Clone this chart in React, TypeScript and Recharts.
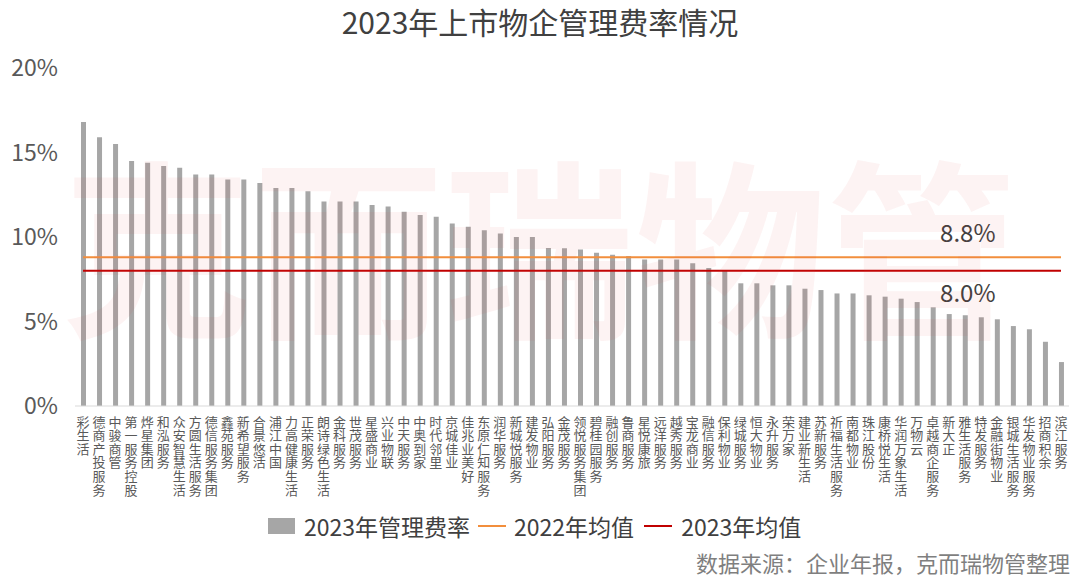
import { ComposedChart, Bar, Line, XAxis, YAxis, LabelList } from 'recharts';

const companies = [
  '彩生活', '德商产投服务', '中骏商管', '第一服务控股', '烨星集团', '和泓服务', '众安智慧生活', '方圆生活服务',
  '德信服务集团', '鑫苑服务', '新希望服务', '合景悠活', '浦江中国', '力高健康生活', '正荣服务', '朗诗绿色生活',
  '金科服务', '世茂服务', '星盛商业', '兴业物联', '中天服务', '中奥到家', '时代邻里', '京城佳业',
  '佳兆业美好', '东原仁知服务', '润华服务', '新城悦服务', '建发物业', '弘阳服务', '金茂服务', '领悦服务集团',
  '碧桂园服务', '融创服务', '鲁商服务', '星悦康旅', '远洋服务', '越秀服务', '宝龙商业', '融信服务',
  '保利物业', '绿城服务', '恒大物业', '永升服务', '荣万家', '建业新生活', '苏新服务', '祈福生活服务',
  '南都物业', '珠江股份', '康桥悦生活', '华润万象生活', '万物云', '卓越商企服务', '新大正', '雅生活服务',
  '特发服务', '金融街物业', '银城生活服务', '华发物业服务', '招商积余', '滨江服务',
];

// 2023年管理费率 (%)
const rate2023 = [
  16.8, 15.9, 15.5, 14.5, 14.4, 14.2, 14.1, 13.7,
  13.7, 13.4, 13.4, 13.2, 12.9, 12.9, 12.7, 12.1,
  12.1, 12.1, 11.9, 11.8, 11.5, 11.3, 11.2, 10.8,
  10.6, 10.4, 10.2, 10.0, 10.0, 9.35, 9.34, 9.26,
  9.07, 8.95, 8.87, 8.67, 8.67, 8.67, 8.44, 8.16,
  8.04, 7.26, 7.26, 7.14, 7.14, 6.94, 6.86, 6.66,
  6.66, 6.55, 6.47, 6.35, 6.15, 5.84, 5.44, 5.37,
  5.25, 5.13, 4.73, 4.54, 3.8, 2.6,
];

const avg2022 = 8.8;
const avg2023 = 8.0;
const yTicks = [0, 5, 10, 15, 20];

const data = companies.map((name, i) => ({
  name,
  rate: rate2023[i],
  avg22: avg2022,
  avg23: avg2023,
}));

const FONT = '"Noto Sans CJK SC", "Noto Sans", sans-serif';
const LABEL_INDEX = 55;

function VerticalTick(props: any) {
  const { x, y, payload } = props;
  const chars = String(payload.value).split('');
  return (
    <g>
      {chars.map((c, i) => (
        <text
          key={i}
          x={x}
          y={y + 7 + i * 13.6}
          textAnchor="middle"
          dominantBaseline="central"
          fontSize={13}
          fill="#595959"
          fontFamily={FONT}
        >
          {c}
        </text>
      ))}
    </g>
  );
}

function avgLabel(dy: number) {
  return (props: any) => {
    const { x, y, index, value } = props;
    if (index !== LABEL_INDEX) return null;
    return (
      <text x={x + 3} y={y + dy} textAnchor="middle" dominantBaseline="central" fontSize={24} fill="#404040" fontFamily={FONT}>
        {Number(value).toFixed(1)}%
      </text>
    );
  };
}

export default function App() {
  return (
    <div style={{ position: 'relative', width: 1080, height: 580, background: '#fff', fontFamily: FONT, overflow: 'hidden' }}>
      <style>{'body{margin:0}'}</style>
      <div style={{ position: 'absolute', top: 3, left: 0, width: 1080, textAlign: 'center', fontSize: 30, lineHeight: '36px', color: '#404040' }}>
        2023年上市物企管理费率情况
      </div>
      <ComposedChart width={1080} height={580} data={data} margin={{ top: 68, right: 11, left: 0, bottom: 0 }}>
        <XAxis
          dataKey="name"
          interval={0}
          height={174}
          tickLine={false}
          axisLine={{ stroke: '#d9d9d9' }}
          tick={<VerticalTick />}
        />
        <YAxis
          width={75}
          domain={[0, 20]}
          ticks={yTicks}
          axisLine={false}
          tickLine={false}
          tickMargin={11}
          tickFormatter={(v) => `${v}%`}
          tick={{ fontSize: 23, fill: '#595959', fontFamily: FONT }}
        />
        <Bar dataKey="rate" fill="#a6a6a6" barSize={5} isAnimationActive={false} />
        <Line dataKey="avg22" stroke="#f28e3c" strokeWidth={2} dot={false} isAnimationActive={false}>
          <LabelList dataKey="avg22" content={avgLabel(-26)} />
        </Line>
        <Line dataKey="avg23" stroke="#c00000" strokeWidth={2} dot={false} isAnimationActive={false}>
          <LabelList dataKey="avg23" content={avgLabel(21)} />
        </Line>
      </ComposedChart>
      {/* watermark */}
      <svg width={1080} height={580} style={{ position: 'absolute', left: 0, top: 0, pointerEvents: 'none' }}>
        <text x={62} y={323} fontSize={190} fontWeight={700} fill="rgba(225,70,70,0.065)" fontFamily={FONT} textLength={955} lengthAdjust="spacing">
          克而瑞物管
        </text>
      </svg>
      <div style={{ position: 'absolute', left: 268, top: 512, height: 28, display: 'flex', alignItems: 'center', fontSize: 23, color: '#404040', whiteSpace: 'nowrap' }}>
        <span style={{ display: 'inline-block', width: 27, height: 16, background: '#a6a6a6', marginRight: 9 }} />
        <span style={{ marginRight: 8 }}>2023年管理费率</span>
        <span style={{ display: 'inline-block', width: 28, height: 2.5, background: '#f28e3c', marginRight: 8 }} />
        <span style={{ marginRight: 10 }}>2022年均值</span>
        <span style={{ display: 'inline-block', width: 28, height: 2.5, background: '#c00000', marginRight: 9 }} />
        <span>2023年均值</span>
      </div>
      <div style={{ position: 'absolute', right: 10, top: 549, fontSize: 22, lineHeight: '26px', color: '#7f7f7f', whiteSpace: 'nowrap' }}>
        数据来源：企业年报，克而瑞物管整理
      </div>
    </div>
  );
}
